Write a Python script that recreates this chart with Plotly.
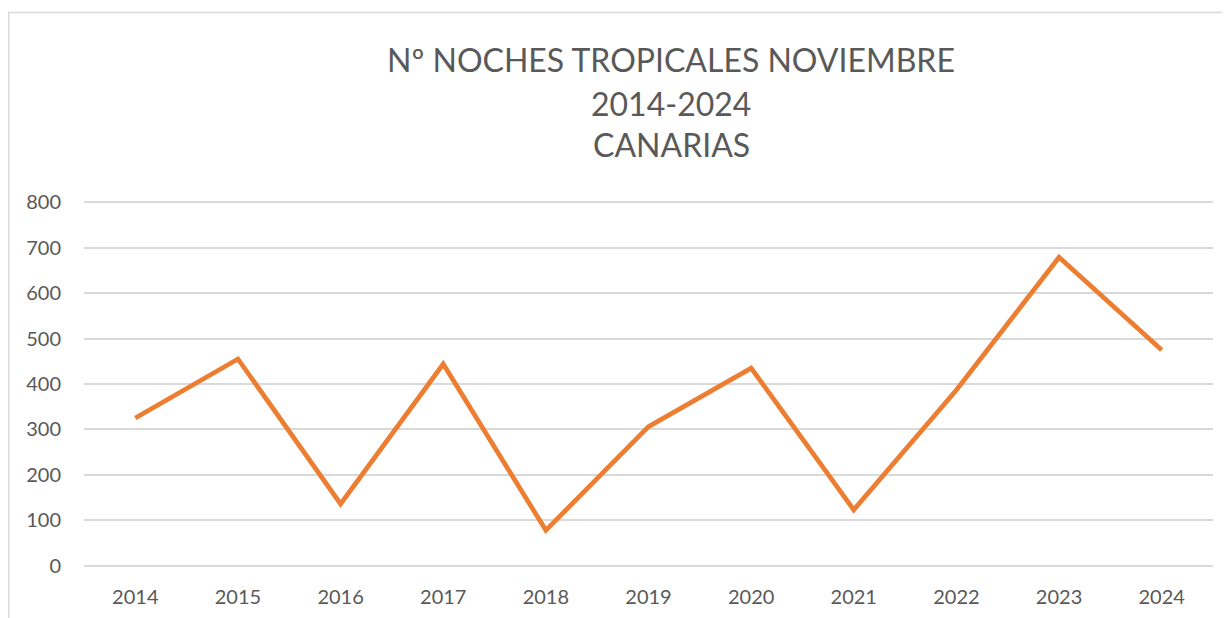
import plotly.graph_objects as go

years = ["2014", "2015", "2016", "2017", "2018", "2019", "2020", "2021", "2022", "2023", "2024"]
nights = [325, 455, 136, 444, 78, 306, 435, 123, 387, 679, 475]
y_ticks = [0, 100, 200, 300, 400, 500, 600, 700, 800]
title_lines = ["Nº NOCHES TROPICALES NOVIEMBRE", "2014-2024", "CANARIAS"]

# The page has an 8px body margin, so the figure is sized/shifted to compensate.
W, H = 1222, 610
L, R = 76, 17
T, B = 191.7, 49.7
pw, ph = W - L - R, H - T - B

def px(x):
    return (x - L) / pw

def py(y):
    return (H - B - y) / ph

fig = go.Figure()
fig.add_trace(go.Scatter(
    x=years, y=nights, mode="lines",
    line=dict(color="#ED7D31", width=4.7),
    hoverinfo="x+y", showlegend=False,
))

title_y = [51, 95, 136]
title_x = 663.5
annotations = [
    dict(text=t, xref="paper", yref="paper", x=px(title_x), y=py(yc),
         xanchor="center", yanchor="middle", showarrow=False,
         font=dict(size=32, color="#595959", family="Lato, Open Sans, sans-serif"))
    for t, yc in zip(title_lines, title_y)
]

fig.update_layout(
    width=W, height=H,
    margin=dict(l=L, r=R, t=T, b=B, autoexpand=False),
    paper_bgcolor="white", plot_bgcolor="white",
    font=dict(family="Lato, Open Sans, sans-serif", color="#595959"),
    annotations=annotations,
    xaxis=dict(
        type="category", range=[-0.5, 10.5], automargin=False,
        showgrid=False, showline=False, zeroline=False,
        ticks="", tickfont=dict(size=20, color="#595959"),
        ticklabelstandoff=15,
    ),
    yaxis=dict(
        range=[-5, 805], tickvals=y_ticks, automargin=False,
        showgrid=True, gridcolor="#D9D9D9", gridwidth=1.5,
        zeroline=False, showline=False, ticks="",
        tickfont=dict(size=20, color="#595959"),
        ticklabelstandoff=22,
    ),
    shapes=[dict(
        type="rect", xref="paper", yref="paper",
        x0=px(0.75), x1=px(W + 20), y0=py(4), y1=py(H + 20),
        line=dict(color="#D9D9D9", width=1.5), fillcolor="rgba(0,0,0,0)",
        layer="below",
    )],
)

fig.write_html("out.html")
